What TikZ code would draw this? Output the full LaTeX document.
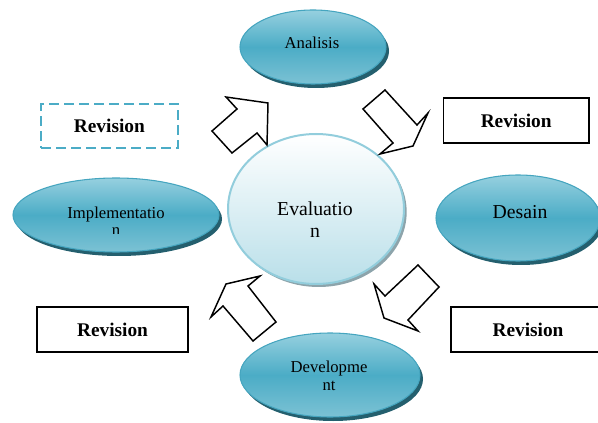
\documentclass[tikz,border=0pt]{standalone}
\usepackage{fontspec}
\setmainfont{Liberation Serif}
\usepackage{xcolor}
\usetikzlibrary{shapes.geometric,shadows}

\definecolor{tealmid}{HTML}{4BACC6}
\definecolor{teallight}{HTML}{96D0DF}
\definecolor{tealbottom}{HTML}{7CC2D4}
\definecolor{tealedge}{HTML}{45A5BF}
\definecolor{tealdark}{HTML}{245F6E}
\definecolor{evalborder}{HTML}{92CDDC}
\definecolor{evalbottom}{HTML}{B9DFE9}
\definecolor{evalshadow}{HTML}{8DA4AB}

\begin{document}
\begin{tikzpicture}[x=0.75pt, y=-0.75pt,
		phase/.style={
			ellipse, draw=tealedge, line width=0.8pt,
			top color=teallight, bottom color=tealbottom, middle color=tealmid,
			drop shadow={shadow xshift=2.25pt, shadow yshift=-3pt, fill=tealdark, opacity=1}
		},
		phasetext/.style={align=center, inner sep=0pt},
		revbox/.style={
			rectangle, draw=black, line width=1.25pt, inner sep=0pt,
			minimum height=33.3pt, font=\fontsize{14.5}{16}\selectfont\bfseries
		},
		blockarrow/.style={draw=black, fill=white, line width=1.1pt, line join=miter}
	]
		\path[use as bounding box, clip] (0,0) rectangle (598,423);

		\node[phase, minimum width=109.5pt, minimum height=55.5pt] (analisis) at (313,47) {};
		\node[phase, minimum width=123pt, minimum height=64.5pt] (desain) at (518,218) {};
		\node[phase, minimum width=154.5pt, minimum height=55.5pt] (implementation) at (116,215) {};
		\node[phase, minimum width=135pt, minimum height=63pt] (development) at (330,375) {};
		\node[
			ellipse, draw=evalborder, line width=1.5pt,
			top color=white, bottom color=evalbottom,
			minimum width=132pt, minimum height=112.5pt,
			drop shadow={shadow xshift=2pt, shadow yshift=-2.25pt, fill=evalshadow, opacity=1}
		] (evaluation) at (316,209) {};

		\node[phasetext, font=\fontsize{12.5}{13.5}\selectfont] (analisis-t) at (312,42.8) {Analisis};
		\node[phasetext, font=\fontsize{14.8}{16.5}\selectfont] (desain-t) at (520,212) {Desain};
		\begin{scope}
			\clip (0,160) rectangle (230,234);
			\node[phasetext, font=\fontsize{12.5}{12.75}\selectfont] (implementation-t) at (116,220.8) {Implementatio\\n};
		\end{scope}
		\node[phasetext, font=\fontsize{12.5}{13.5}\selectfont] (development-t) at (329,376) {Developme\\nt};
		\node[phasetext, font=\fontsize{14.8}{16.5}\selectfont] (evaluation-t) at (315,219.3) {Evaluatio\\n};

		\draw[blockarrow] (212,131) -- (237,109) -- (226,97) -- (268,103) -- (267,145) -- (257,133) -- (232,153) -- cycle;
		\draw[blockarrow] (363,109) -- (385,90) -- (417,125) -- (428,113) -- (413,146) -- (380,154) -- (393,143) -- cycle;
		\draw[blockarrow] (418,265) -- (439,287) -- (408,320) -- (418,331) -- (384,318) -- (374,284) -- (385,296) -- cycle;
		\draw[blockarrow] (211,317) -- (226,284) -- (260,276) -- (248,286) -- (276,322) -- (253,341) -- (223,306) -- cycle;

		\node[
			revbox, draw=tealmid, line width=1.75pt, dash pattern=on 7.5pt off 3.75pt,
			minimum width=102.5pt
		] (rev-a) at (109.4,126) {Revision};
		\foreach \n/\x/\y/\w in {b/516.2/120.5/109.3, c/112.5/329.5/113.7, d/528/329.5/115.5} {
				\node[revbox, minimum width=\w pt] (rev-\n) at (\x,\y) {Revision};
			}
	\end{tikzpicture}
\end{document}
